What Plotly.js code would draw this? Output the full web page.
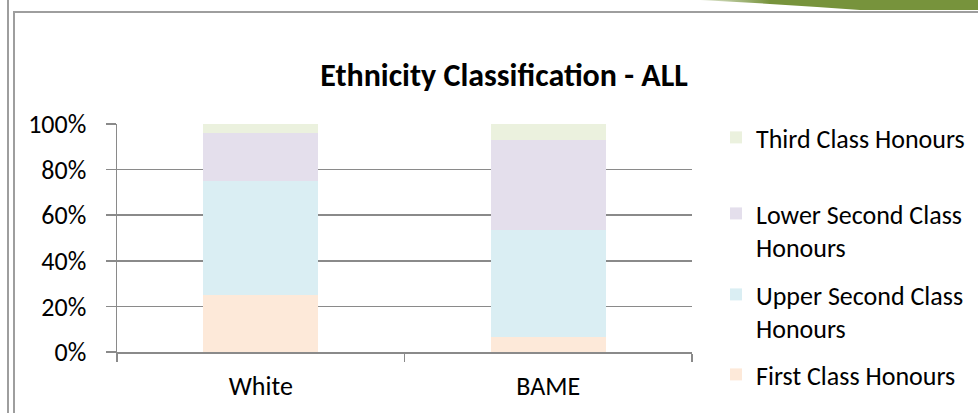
<!DOCTYPE html>
<html>
<head>
<meta charset="utf-8">
<script src="https://cdn.plot.ly/plotly-3.0.1.min.js"></script>
<style>
  html, body { margin: 0; padding: 0; background: #fff; }
  #wrap { position: relative; width: 978px; height: 413px; overflow: hidden; }
  #chart { position: absolute; left: 0; top: 0; width: 978px; height: 413px; }
  .ln { position: absolute; background: #9e9e9e; pointer-events: none; }
  #deco { position: absolute; left: 0; top: 0; pointer-events: none; }
</style>
</head>
<body>
<div id="wrap">
  <div id="chart"></div>
  <div class="ln" style="left:7px;top:0;width:2px;height:413px;"></div>
  <div class="ln" style="left:13px;top:11px;width:2px;height:402px;"></div>
  <div class="ln" style="left:13px;top:11px;width:965px;height:2px;"></div>
  <svg id="deco" width="978" height="14">
    <defs>
      <linearGradient id="g" x1="0" x2="1" y1="0" y2="0">
        <stop offset="0" stop-color="#77933C" stop-opacity="0.2"/>
        <stop offset="0.25" stop-color="#77933C" stop-opacity="1"/>
        <stop offset="1" stop-color="#77933C" stop-opacity="1"/>
      </linearGradient>
    </defs>
    <path d="M700,0 Q780,4 860,10 L978,10 L978,0 Z" fill="url(#g)"/>
  </svg>
</div>
<script>
const categories = ["White", "BAME"];
const seriesNames = ["First Class Honours", "Upper Second Class<br>Honours", "Lower Second Class<br>Honours", "Third Class Honours"];
const firstClass = [25.0, 6.4];
const upperSecond = [50.0, 47.0];
const lowerSecond = [21.0, 39.8];
const thirdClass = [4.0, 6.8];
const yTickVals = [0, 20, 40, 60, 80, 100];
const yTickText = ["0%", "20%", "40%", "60%", "80%", "100%"];

const colors = ["#FDE9D9", "#DAEEF3", "#E4DFEC", "#EBF1DE"];
const values = [firstClass, upperSecond, lowerSecond, thirdClass];
const legendIds = ["legend4", "legend3", "legend2", "legend"];

const FONT = "Carlito, Calibri, Lato, 'Open Sans', sans-serif";

const traces = values.map((v, i) => ({
  type: "bar",
  name: seriesNames[i],
  x: categories,
  y: v,
  marker: { color: colors[i], line: { width: 0 } },
  legend: legendIds[i],
  hoverinfo: "skip"
}));

function leg(top) {
  return {
    x: 716 / 978, xref: "container", xanchor: "left",
    y: 1 - top / 413, yref: "container", yanchor: "top",
    bgcolor: "rgba(0,0,0,0)",
    font: { family: FONT, size: 26, color: "#000" },
    valign: "top",
    itemclick: false
  };
}

const layout = {
  width: 978,
  height: 413,
  margin: { l: 117, r: 286, t: 124, b: 61 },
  paper_bgcolor: "#fff",
  plot_bgcolor: "#fff",
  barmode: "stack",
  bargap: 0.6,
  showlegend: true,
  title: {
    text: "<b>Ethnicity Classification - ALL</b>",
    x: 504 / 978, xref: "container", xanchor: "center",
    y: 1 - 75 / 413, yref: "container", yanchor: "middle",
    font: { family: FONT, size: 32, color: "#000" }
  },
  xaxis: {
    type: "category",
    showline: true, linecolor: "#8a8a8a", linewidth: 1.5,
    ticks: "outside", tickson: "boundaries", ticklen: 8, tickcolor: "#8a8a8a", tickwidth: 1.5,
    showgrid: false,
    ticklabelstandoff: 10,
    tickfont: { family: FONT, size: 26, color: "#000" },
    fixedrange: true
  },
  yaxis: {
    range: [0, 100],
    tickvals: yTickVals, ticktext: yTickText,
    showline: true, linecolor: "#8a8a8a", linewidth: 1.5,
    ticks: "outside", ticklen: 10, tickcolor: "#8a8a8a", tickwidth: 1.5,
    showgrid: true, gridcolor: "#8a8a8a", gridwidth: 1.5,
    zeroline: false,
    ticklabelstandoff: 14,
    tickfont: { family: FONT, size: 26, color: "#000" },
    fixedrange: true
  },
  legend: leg(114),
  legend2: leg(190),
  legend3: leg(271),
  legend4: leg(351)
};

Plotly.newPlot("chart", traces, layout, { displayModeBar: false, staticPlot: true });
</script>
</body>
</html>
